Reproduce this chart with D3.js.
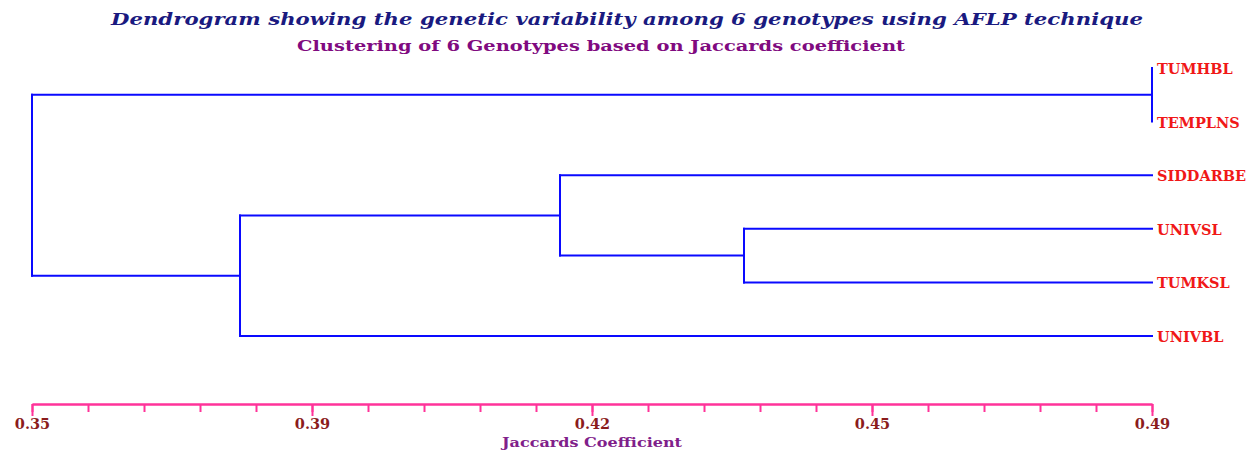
<!DOCTYPE html>
<html>
<head>
<meta charset="utf-8">
<script src="https://cdn.jsdelivr.net/npm/d3@7"></script>
<style>
  body { margin: 0; background: #fff; }
  text { font-family: "DejaVu Serif", "Liberation Serif", serif; font-weight: bold; }
</style>
</head>
<body>
<div id="container"></div>
<script>
/*** DATA ***/
// leaves top to bottom
const leaves = ["TUMHBL", "TEMPLNS", "SIDDARBE", "UNIVSL", "TUMKSL", "UNIVBL"];
// merges (Jaccard coefficient at each join)
const clusterIds = ["A", "B", "C", "D", "root"];
const clusterChildren = [
  ["TUMHBL", "TEMPLNS"],
  ["UNIVSL", "TUMKSL"],
  ["SIDDARBE", "B"],
  ["C", "UNIVBL"],
  ["A", "D"]
];
const clusterHeights = [0.49, 0.439, 0.416, 0.376, 0.35];
// axis
const axisDomain = [0.35, 0.49];
const minorStep = 0.007;
const tickLabels = ["0.35", "0.39", "0.42", "0.45", "0.49"];

const titleText = "Dendrogram showing the genetic variability  among 6 genotypes using AFLP technique";
const subtitleText = "Clustering of 6 Genotypes based on Jaccards coefficient";
const xTitle = "Jaccards Coefficient";

/*** SETUP ***/
const width = 1254, height = 454;
const margin = { top: 68, bottom: 118, left: 32, right: 102 };

const svg = d3.select("#container").append("svg")
  .attr("width", width)
  .attr("height", height);

const x = d3.scaleLinear()
  .domain(axisDomain)
  .range([margin.left, width - margin.right]);

const y = d3.scalePoint()
  .domain(leaves)
  .range([margin.top, height - margin.bottom]);

// build node table: leaves sit at the top of the scale
const nodes = new Map();
leaves.forEach(l => nodes.set(l, { id: l, h: axisDomain[1], y: y(l) }));
clusterIds.forEach((id, i) => {
  const kids = clusterChildren[i].map(k => nodes.get(k));
  nodes.set(id, { id, h: clusterHeights[i], y: d3.mean(kids, k => k.y), kids });
});

// elbow segments
const segs = [];
clusterIds.forEach(id => {
  const n = nodes.get(id);
  segs.push([x(n.h), n.kids[0].y, x(n.h), n.kids[1].y]);
  n.kids.forEach(k => {
    if (k.h !== n.h) segs.push([x(n.h), k.y, x(k.h), k.y]);
  });
});

svg.selectAll("line.branch")
  .data(segs)
  .join("line")
  .attr("class", "branch")
  .attr("x1", d => d[0]).attr("y1", d => d[1])
  .attr("x2", d => d[2]).attr("y2", d => d[3])
  .attr("stroke", "#0a0aff")
  .attr("stroke-width", 2)
  .attr("stroke-linecap", "square");

// leaf labels
svg.selectAll("text.leaf")
  .data(leaves)
  .join("text")
  .attr("class", "leaf")
  .attr("x", x(axisDomain[1]) + 5)
  .attr("y", d => y(d) + 2)
  .attr("dominant-baseline", "middle")
  .attr("fill", "#f01818")
  .style("font-size", "14.5px")
  .text(d => d);

/*** AXIS ***/
const axisY = 404;
const minorTicks = d3.range(0, 21).map(i => axisDomain[0] + i * minorStep);
const majorTicks = minorTicks.filter((_, i) => i % 5 === 0);

const gMinor = svg.append("g")
  .attr("transform", `translate(0,${axisY})`)
  .call(d3.axisBottom(x).tickValues(minorTicks).tickSize(8).tickSizeOuter(0).tickFormat(""));

const gMajor = svg.append("g")
  .attr("transform", `translate(0,${axisY})`)
  .call(d3.axisBottom(x).tickValues(majorTicks).tickSize(12).tickSizeOuter(0).tickPadding(3)
    .tickFormat((d, i) => tickLabels[i]));

[gMinor, gMajor].forEach(g => {
  g.selectAll("path, line").attr("stroke", "#ff3399").attr("stroke-width", 2);
});
gMajor.selectAll("text")
  .attr("fill", "#8b1c1c")
  .style("font-size", "14.5px")
  .style("font-family", "DejaVu Serif");

svg.append("text")
  .attr("x", x(0.42))
  .attr("y", 447)
  .attr("text-anchor", "middle")
  .attr("fill", "#80208a")
  .attr("textLength", 180)
  .attr("lengthAdjust", "spacingAndGlyphs")
  .style("font-size", "13.5px")
  .text(xTitle);

/*** TITLES ***/
svg.append("text")
  .attr("x", 627)
  .attr("y", 25)
  .attr("text-anchor", "middle")
  .attr("fill", "#1a1a80")
  .attr("textLength", 1032)
  .attr("lengthAdjust", "spacingAndGlyphs")
  .style("font-size", "17px")
  .style("font-style", "italic")
  .text(titleText);

svg.append("text")
  .attr("x", 601)
  .attr("y", 51)
  .attr("text-anchor", "middle")
  .attr("fill", "#800a80")
  .attr("textLength", 608)
  .attr("lengthAdjust", "spacingAndGlyphs")
  .style("font-size", "15px")
  .text(subtitleText);
</script>
</body>
</html>
